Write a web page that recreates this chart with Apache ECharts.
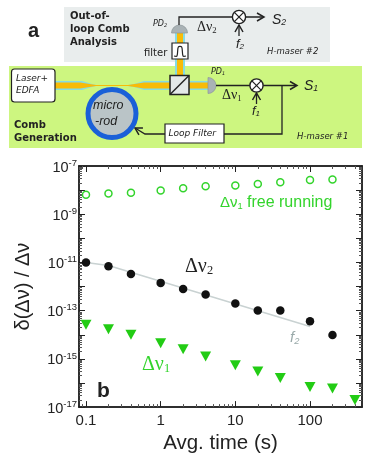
<!DOCTYPE html>
<html>
<head>
<meta charset="utf-8">
<style>html,body{margin:0;padding:0;background:#fff}#c{width:374px;height:459px}</style>
<script src="https://cdn.jsdelivr.net/npm/echarts@6/dist/echarts.min.js"></script>
</head>
<body>
<div id="c"></div>
<script>
const times = [0.1, 0.2, 0.4, 1, 2, 4, 10, 20, 40, 100, 200];
const timesLong = [0.1, 0.2, 0.4, 1, 2, 4, 10, 20, 40, 100, 200, 400];
const freeRunning = [6.4e-9, 7.3e-9, 7.7e-9, 9.7e-9, 1.2e-8, 1.45e-8, 1.55e-8, 1.8e-8, 2.1e-8, 2.6e-8, 2.75e-8];
const dv2 = [1e-11, 6.9e-12, 3.3e-12, 1.42e-12, 8e-13, 4.7e-13, 2e-13, 1.02e-13, 1.02e-13, 3.6e-14, 9.8e-15];
const dv1 = [2.6e-14, 1.7e-14, 1e-14, 4.5e-15, 2.5e-15, 1.26e-15, 5.5e-16, 3e-16, 1.6e-16, 6.9e-17, 5.9e-17, 1.95e-17];
const f2Times = [0.1, 0.2, 100];
const f2Line = [1e-11, 7.5e-12, 2.2e-14];
const xLabels = [0.1, 1, 10, 100];
const yLabels = [1e-17, 1e-15, 1e-13, 1e-11, 1e-9, 1e-7];
const xMajor = [0.1, 1, 10, 100];
const xMinor = [0.09, 0.2, 0.3, 0.4, 0.5, 0.6, 0.7, 0.8, 0.9, 2, 3, 4, 5, 6, 7, 8, 9, 20, 30, 40, 50, 60, 70, 80, 90, 200, 300, 400];
const yMajor = [1e-17, 1e-16, 1e-15, 1e-14, 1e-13, 1e-12, 1e-11, 1e-10, 1e-9, 1e-8, 1e-7];
const yMinor = [];
for (let e = -17; e < -7; e++) for (const m of [2, 3, 4, 5, 6, 7, 8, 9]) yMinor.push(Number(m + 'e' + e));

const ink = '#222';
const green = '#33d42c';
const solidGreen = '#22cc14';
const sans = '"Liberation Sans"';
const serif = '"Liberation Serif"';
const dejavu = '"DejaVu Sans"';

function xAxis(position, ticks, len, showLabel) {
  return {
    type: 'log', min: 0.0806, max: 497, position, logBase: 10,
    axisLine: { show: true, onZero: false, lineStyle: { color: ink, width: 1.5 } },
    axisTick: { show: true, inside: true, length: len, customValues: ticks, lineStyle: { color: len > 4 ? ink : '#555', width: 1 } },
    axisLabel: showLabel ? {
      show: true, customValues: xLabels, margin: 6, fontFamily: sans, fontSize: 15, color: ink,
      formatter: v => String(v), hideOverlap: false, showMinLabel: true, showMaxLabel: true
    } : { show: false },
    splitLine: { show: false },
    minorTick: { show: false },
    name: showLabel ? 'Avg. time (s)' : '', nameLocation: 'middle', nameGap: 23,
    nameTextStyle: { fontFamily: sans, fontSize: 20.5, color: ink }
  };
}
function yAxis(position, ticks, len, showLabel) {
  return {
    type: 'log', min: 1e-17, max: 1e-7, position, logBase: 10,
    axisLine: { show: true, onZero: false, lineStyle: { color: ink, width: 1.5 } },
    axisTick: { show: true, inside: true, length: len, customValues: ticks, lineStyle: { color: len > 4 ? ink : '#555', width: 1 } },
    axisLabel: showLabel ? {
      show: true, customValues: yLabels, margin: 2, color: ink, hideOverlap: false,
      formatter: v => '{b|10}{s|' + Math.round(Math.log10(v)) + '}',
      rich: {
        b: { fontFamily: sans, fontSize: 14.5, color: ink, padding: [3, 0, 0, 0] },
        s: { fontFamily: sans, fontSize: 9.5, color: ink, padding: [0, 0, 6, 0] }
      }
    } : { show: false },
    splitLine: { show: false },
    minorTick: { show: false },
    name: showLabel ? 'δ(Δν) / Δν' : '', nameLocation: 'middle', nameGap: 46,
    nameTextStyle: { fontFamily: sans, fontSize: 20, color: ink }
  };
}

function label(x, y, text, size, extra) {
  return { type: 'text', x, y, silent: true, style: Object.assign({
    text, fontSize: size, fontFamily: dejavu, fill: ink, textVerticalAlign: 'middle'
  }, extra || {}) };
}
const italic = { fontStyle: 'italic' };
const bold = { fontWeight: 'bold' };
function line(pts, width, color) {
  return { type: 'polyline', silent: true, shape: { points: pts }, style: { stroke: color || ink, lineWidth: width || 1.3, fill: null } };
}
function head(x, y, dx, dy) {
  const px = -dy, py = dx;
  return line([[x - 7 * dx + 4 * px, y - 7 * dy + 4 * py], [x, y], [x - 7 * dx - 4 * px, y - 7 * dy - 4 * py]], 1.5);
}
function mixer(x, y) {
  const d = 4.6;
  return [
    { type: 'circle', silent: true, shape: { cx: x, cy: y, r: 6.6 }, style: { fill: '#fff', stroke: ink, lineWidth: 1.4 } },
    line([[x - d, y - d], [x + d, y + d]], 1.2),
    line([[x - d, y + d], [x + d, y - d]], 1.2)
  ];
}
function sub(main, idx, size, family, color, it) {
  return {
    text: '{m|' + main + '}{i|' + idx + '}',
    rich: {
      m: { fontFamily: family, fontSize: size, fill: color, fontStyle: it ? 'italic' : 'normal' },
      i: { fontFamily: family, fontSize: size * 0.62, fill: color, fontStyle: it ? 'italic' : 'normal', padding: [size * 0.45, 0, 0, 0] }
    }
  };
}
function richLabel(x, y, main, idx, size, family, color, it) {
  return { type: 'text', x, y, silent: true, style: sub(main, idx, size, family, color, it) };
}

const orange = '#f8bb08';
const cyan = '#86dce4';
const graphics = [
  { type: 'rect', silent: true, shape: { x: 64, y: 7, width: 266, height: 55 }, style: { fill: '#e9eded' } },
  { type: 'rect', silent: true, shape: { x: 9, y: 66, width: 353, height: 82 }, style: { fill: '#cdf680' } },
  label(28, 31, 'a', 20, { fontFamily: sans, fontWeight: 'bold' }),
  label(70, 16, 'Out-of-', 10, bold),
  label(70, 29, 'loop Comb', 10, bold),
  label(70, 42, 'Analysis', 10, bold),
  label(14, 125, 'Comb', 10, bold),
  label(14, 138, 'Generation', 10, bold),
  // beams
  { type: 'rect', silent: true, shape: { x: 175, y: 32, width: 10, height: 44 }, style: { fill: cyan } },
  { type: 'rect', silent: true, shape: { x: 177, y: 32, width: 6, height: 44 }, style: { fill: orange } },
  { type: 'polygon', silent: true, shape: { points: [[55, 81], [82, 81], [92, 84], [96, 85], [128, 85], [134, 84], [144, 81], [172, 81], [172, 90], [144, 90], [134, 87], [128, 86], [96, 86], [92, 87], [82, 90], [55, 90]] }, style: { fill: cyan } },
  { type: 'polygon', silent: true, shape: { points: [[55, 82.5], [80, 82.5], [96, 85], [128, 85], [144, 82.5], [172, 82.5], [172, 88.5], [144, 88.5], [128, 86], [96, 86], [80, 88.5], [55, 88.5]] }, style: { fill: orange } },
  { type: 'rect', silent: true, shape: { x: 188, y: 81, width: 20, height: 9 }, style: { fill: cyan } },
  { type: 'rect', silent: true, shape: { x: 188, y: 82.5, width: 20, height: 6 }, style: { fill: orange } },
  // cube
  { type: 'rect', silent: true, shape: { x: 170, y: 75.5, width: 19, height: 19 }, style: { fill: '#e4e9e9', stroke: ink, lineWidth: 1.5 } },
  line([[170, 94.5], [189, 75.5]], 1.5),
  // filter
  { type: 'rect', silent: true, shape: { x: 172, y: 43, width: 16, height: 16 }, style: { fill: '#fff', stroke: ink, lineWidth: 1.2 } },
  { type: 'polyline', silent: true, shape: { smooth: 0.3, points: [[174, 56], [177, 56], [178.3, 47], [181.7, 47], [183, 56], [186, 56]] }, style: { stroke: ink, lineWidth: 1.2, fill: null } },
  label(144, 53, 'filter', 10),
  // photodiodes
  { type: 'sector', silent: true, shape: { cx: 179.5, cy: 33, r: 8, startAngle: Math.PI, endAngle: 2 * Math.PI }, style: { fill: '#a9b2b5', stroke: '#8c9699', lineWidth: 0.7 } },
  { type: 'sector', silent: true, shape: { cx: 208, cy: 85.5, r: 8, startAngle: -Math.PI / 2, endAngle: Math.PI / 2 }, style: { fill: '#a9b2b5', stroke: '#8c9699', lineWidth: 0.7 } },
  richLabel(153, 20, 'PD', '2', 8, dejavu, ink, true),
  richLabel(211, 68, 'PD', '1', 8, dejavu, ink, true),
  // signal lines, top
  line([[179, 25], [179, 17], [263, 17]]),
  head(264, 17, 1, 0),
  ...mixer(239, 17),
  line([[239, 36], [239, 25]]),
  head(239, 25, 0, -1),
  richLabel(197, 20, 'Δν', '2', 14, serif, ink),
  richLabel(236, 37, 'f', '2', 13, sans, ink, true),
  richLabel(272, 12, 'S', '2', 14, sans, ink, true),
  label(267, 52, 'H-maser #2', 8.5, italic),
  // signal lines, bottom
  line([[216, 85.5], [296, 85.5]]),
  head(297, 85.5, 1, 0),
  ...mixer(256.5, 85.5),
  line([[256.5, 104], [256.5, 93]]),
  head(256.5, 93, 0, -1),
  line([[282, 85.5], [282, 134], [224, 134]]),
  line([[165, 134], [145, 134], [135, 128]]),
  head(135, 128, -0.85, -0.5),
  richLabel(222, 88, 'Δν', '1', 14, serif, ink),
  richLabel(252, 104, 'f', '1', 13, sans, ink, true),
  richLabel(304, 78, 'S', '1', 14, sans, ink, true),
  label(297, 137, 'H-maser #1', 8.5, italic),
  // boxes
  { type: 'rect', silent: true, shape: { x: 11.5, y: 69, width: 43.5, height: 33, r: 3 }, style: { fill: '#fff', stroke: ink, lineWidth: 1.2 } },
  label(16, 79, 'Laser+', 9, italic),
  label(16, 91, 'EDFA', 9, italic),
  { type: 'rect', silent: true, shape: { x: 165, y: 124, width: 59, height: 19 }, style: { fill: '#fff', stroke: ink, lineWidth: 1.2 } },
  label(168.5, 133.5, 'Loop Filter', 9, italic),
  // micro-rod
  { type: 'circle', silent: true, shape: { cx: 112, cy: 113.5, r: 24 }, style: { fill: '#bac4c7', stroke: '#1a60d8', lineWidth: 5 } },
  label(93, 106, 'micro', 12.5, { fontStyle: 'italic', fontFamily: sans }),
  label(95, 122, '-rod', 12.5, { fontStyle: 'italic', fontFamily: sans }),
  // plot annotations
  richLabel(220, 195, 'Δν', '1', 15, sans, green),
  label(247, 203, 'free running', 16, { fill: green, fontFamily: sans }),
  richLabel(185, 256, 'Δν', '2', 20, serif, ink),
  richLabel(290, 330, 'f', '2', 15, sans, '#9aaaaa', true),
  richLabel(142, 354, 'Δν', '1', 20, serif, green),
  label(97, 391, 'b', 21, { fontFamily: sans, fontWeight: 'bold' })
];

const chart = echarts.init(document.getElementById('c'), null, { renderer: 'canvas' });
chart.setOption({
  animation: false,
  backgroundColor: '#fff',
  grid: { left: 79, right: 12, top: 166, bottom: 51, containLabel: false },
  xAxis: [
    xAxis('bottom', xMajor, 6, true),
    xAxis('bottom', xMinor, 3, false),
    xAxis('top', xMajor, 6, false),
    xAxis('top', xMinor, 3, false)
  ],
  yAxis: [
    yAxis('left', yMajor, 6, true),
    yAxis('left', yMinor, 3, false),
    yAxis('right', yMajor, 6, false),
    yAxis('right', yMinor, 3, false)
  ],
  series: [
    { type: 'line', name: 'f2', data: f2Times.map((t, i) => [t, f2Line[i]]), symbol: 'none', lineStyle: { color: '#c9d2d2', width: 1.5 }, z: 1 },
    { type: 'scatter', name: 'free', data: times.map((t, i) => [t, freeRunning[i]]), symbol: 'circle', symbolSize: 7, itemStyle: { color: 'transparent', borderColor: green, borderWidth: 1.5, opacity: 1 } },
    { type: 'scatter', name: 'dv2', data: times.map((t, i) => [t, dv2[i]]), symbol: 'circle', symbolSize: 8.5, itemStyle: { color: '#111', opacity: 1 } },
    { type: 'scatter', name: 'dv1', data: timesLong.map((t, i) => [t, dv1[i]]), symbol: 'triangle', symbolRotate: 180, symbolSize: [11, 10], itemStyle: { color: solidGreen, opacity: 1 } }
  ],
  graphic: { elements: graphics }
});
</script>
</body>
</html>
